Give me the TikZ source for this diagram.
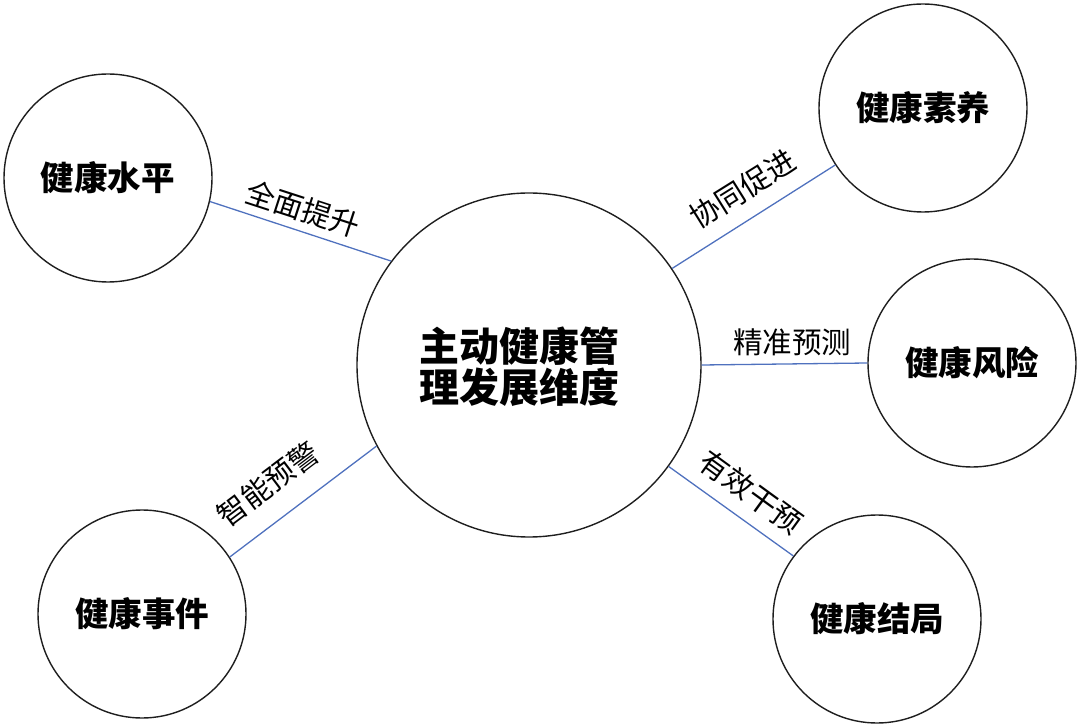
\documentclass[tikz,border=0pt]{standalone}
\usepackage{fontspec}
\setmainfont{Noto Sans CJK SC}
\definecolor{linkblue}{RGB}{79,113,190}
\definecolor{ringgray}{RGB}{30,30,30}
\begin{document}
\begin{tikzpicture}[x=1pt,y=-1pt,
  ring/.style={circle,draw=ringgray,line width=1.4pt,inner sep=0pt,align=center},
  outer/.style={ring,minimum size=208pt,font=\fontsize{33.5}{37}\selectfont\bfseries},
  hub/.style={ring,minimum size=344pt},
  link/.style={draw=linkblue,line width=1.3pt},
  lbl/.style={font=\fontsize{29.5}{33}\selectfont,inner sep=0pt}]
\useasboundingbox (0,0) rectangle (1080,727);
\node[hub] (c) at (529,365) {};
\node[font=\fontsize{40}{41}\selectfont\bfseries,align=center,inner sep=0pt] (ct) at (519,367) {主动健康管\\理发展维度};
\node[outer] (tl) at (108,178) {健康水平};
\node[outer] (tr) at (923,108) {健康素养};
\node[outer] (r) at (972,363) {健康风险};
\node[outer] (br) at (877,619) {健康结局};
\node[outer] (bl) at (142,614) {健康事件};
\draw[link] (tl.-13) -- (c.143.5);
\draw[link] (c.34) -- (tr.213);
\draw[link] (c.0) -- (r.180);
\draw[link] (c.-36) -- (br.143);
\draw[link] (bl.33.4) -- (c.208);
\node[lbl,rotate=-18] (l1) at (303,209) {全面提升};
\node[lbl,rotate=32] (l2) at (743,189) {协同促进};
\node[lbl] (l3) at (792,342) {精准预测};
\node[lbl,rotate=-36] (l4) at (751,492) {有效干预};
\node[lbl,rotate=37] (l5) at (268,484) {智能预警};
\end{tikzpicture}
\end{document}
